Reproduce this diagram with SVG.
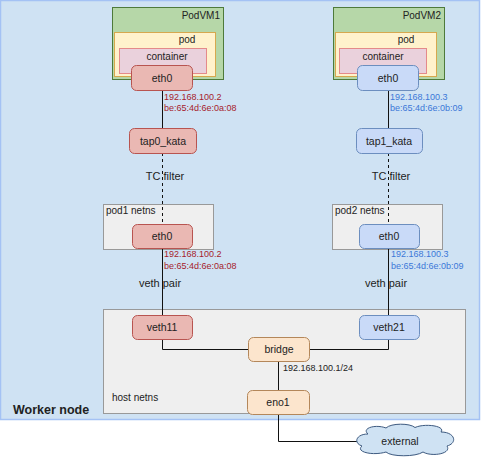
<svg xmlns="http://www.w3.org/2000/svg" width="483" height="457" viewBox="0 0 483 457">
<style>
text{font-family:"Liberation Sans",Arial,sans-serif;fill:#222}
.lbl{font-size:10.5px;text-anchor:middle}
.sm{font-size:10px}
.el{font-size:11px;text-anchor:middle}
.ipr{font-size:9px;fill:#a61c2c}
.ipb{font-size:9px;fill:#3c78d8}
.red{fill:#eab8b3;stroke:#b85450;stroke-width:1}
.blue{fill:#c9daf8;stroke:#6c8ebf;stroke-width:1}
.org{fill:#fce5cd;stroke:#b4875a;stroke-width:1}
.vm{fill:#b6d7a8;stroke:#4e7a3a;stroke-width:1}
.pod{fill:#fff2cc;stroke:#d6a84e;stroke-width:1}
.ctr{fill:#ead1dc;stroke:#e48a8a;stroke-width:1}
.ns{fill:#efefef;stroke:#999;stroke-width:1}
.ln{fill:none;stroke:#111;stroke-width:1}
.dash{fill:none;stroke:#111;stroke-width:1;stroke-dasharray:3,3}
</style>
<g id="worker-node">
<rect x="0.5" y="0.5" width="479" height="419" fill="#cfe2f3" stroke="#a4c2f4" stroke-width="1.5"/>
<text x="13" y="414" font-size="12.5" font-weight="bold">Worker node</text>
</g>
<g id="podvm1">
<rect class="vm" x="112.5" y="7.5" width="111" height="72"/>
<text class="sm" x="220" y="19" text-anchor="end">PodVM1</text>
<rect class="pod" x="114.5" y="32.5" width="101" height="44"/>
<text class="sm" x="187" y="43" text-anchor="middle">pod</text>
<rect class="ctr" x="119.5" y="48.5" width="87" height="25"/>
<text class="sm" x="167" y="60" text-anchor="middle">container</text>
</g>
<g id="podvm2">
<rect class="vm" x="333.5" y="7.5" width="111" height="72"/>
<text class="sm" x="441" y="19" text-anchor="end">PodVM2</text>
<rect class="pod" x="335.5" y="32.5" width="101" height="44"/>
<text class="sm" x="406" y="43" text-anchor="middle">pod</text>
<rect class="ctr" x="339.5" y="48.5" width="87" height="25"/>
<text class="sm" x="383" y="60" text-anchor="middle">container</text>
</g>
<g id="pod1-netns">
<rect class="ns" x="103.5" y="204.5" width="110" height="45"/>
<text class="sm" x="106" y="214">pod1 netns</text>
</g>
<g id="pod2-netns">
<rect class="ns" x="332.5" y="204.5" width="110" height="45"/>
<text class="sm" x="335" y="214">pod2 netns</text>
</g>
<g id="host-netns">
<rect class="ns" x="103.5" y="309.5" width="362" height="104"/>
<text class="sm" x="112" y="401">host netns</text>
</g>
<g id="connectors">
<line class="ln" x1="162.5" y1="91" x2="162.5" y2="128"/>
<line class="dash" x1="162.5" y1="153" x2="162.5" y2="224"/>
<line class="ln" x1="162.5" y1="248" x2="162.5" y2="315"/>
<line class="ln" x1="388.5" y1="90" x2="388.5" y2="128"/>
<line class="dash" x1="388.5" y1="153" x2="388.5" y2="224"/>
<line class="ln" x1="388.5" y1="248" x2="388.5" y2="315"/>
<polyline class="ln" points="162.5,339 162.5,349.5 248,349.5"/>
<polyline class="ln" points="309,349.5 388.5,349.5 388.5,339"/>
<line class="ln" x1="278.5" y1="361" x2="278.5" y2="391"/>
<polyline class="ln" points="278.5,414 278.5,441.5 358,441.5"/>
<text class="el" x="165" y="180">TC filter</text>
<text class="el" x="391" y="180">TC filter</text>
<text class="el" x="160" y="287">veth pair</text>
<text class="el" x="386" y="287">veth pair</text>
<text class="ipr" x="164" y="99.5">192.168.100.2</text>
<text class="ipr" x="164" y="110.5">be:65:4d:6e:0a:08</text>
<text class="ipb" x="390" y="99.5">192.168.100.3</text>
<text class="ipb" x="390" y="110.5">be:65:4d:6e:0b:09</text>
<text class="ipr" x="164" y="256.5">192.168.100.2</text>
<text class="ipr" x="164" y="268.5">be:65:4d:6e:0a:08</text>
<text class="ipb" x="391" y="256.5">192.168.100.3</text>
<text class="ipb" x="391" y="268.5">be:65:4d:6e:0b:09</text>
<text x="283" y="371" font-size="9">192.168.100.1/24</text>
</g>
<g id="eth0-vm1"><rect class="red" x="131.5" y="65.5" width="61" height="25" rx="5"/><text class="lbl" x="162" y="82">eth0</text></g>
<g id="eth0-vm2"><rect class="blue" x="357.5" y="65.5" width="61" height="25" rx="5"/><text class="lbl" x="388" y="82">eth0</text></g>
<g id="tap0_kata"><rect class="red" x="129.5" y="128.5" width="67" height="25" rx="5"/><text class="lbl" x="163" y="145">tap0_kata</text></g>
<g id="tap1_kata"><rect class="blue" x="356.5" y="128.5" width="66" height="25" rx="5"/><text class="lbl" x="389" y="145">tap1_kata</text></g>
<g id="eth0-pod1"><rect class="red" x="132.5" y="224.5" width="60" height="24" rx="5"/><text class="lbl" x="162" y="240">eth0</text></g>
<g id="eth0-pod2"><rect class="blue" x="359.5" y="224.5" width="60" height="24" rx="5"/><text class="lbl" x="389" y="240">eth0</text></g>
<g id="veth11"><rect class="red" x="132.5" y="315.5" width="60" height="24" rx="5"/><text class="lbl" x="162" y="331">veth11</text></g>
<g id="veth21"><rect class="blue" x="359.5" y="315.5" width="60" height="24" rx="5"/><text class="lbl" x="389" y="331">veth21</text></g>
<g id="bridge"><rect class="org" x="248.5" y="337.5" width="61" height="24" rx="5"/><text class="lbl" x="279" y="353">bridge</text></g>
<g id="eno1"><rect class="org" x="247.5" y="390.5" width="62" height="24" rx="5"/><text class="lbl" x="278" y="406">eno1</text></g>
<g id="external">
<path d="M368,434 C361,428 376,424 386,428 C391,423 410,423 415,427.5 C425,423 446,426 441,432 C455,432 458,443 447,446 C452,454 431,457 423,452 C416,457 391,457 386,452 C373,456 355,452 362,446 C353,443 356,434 368,434 Z" fill="#cfe2f3" stroke="#3d5a80" stroke-width="1"/>
<text class="lbl" x="400" y="445">external</text>
</g>
</svg>
